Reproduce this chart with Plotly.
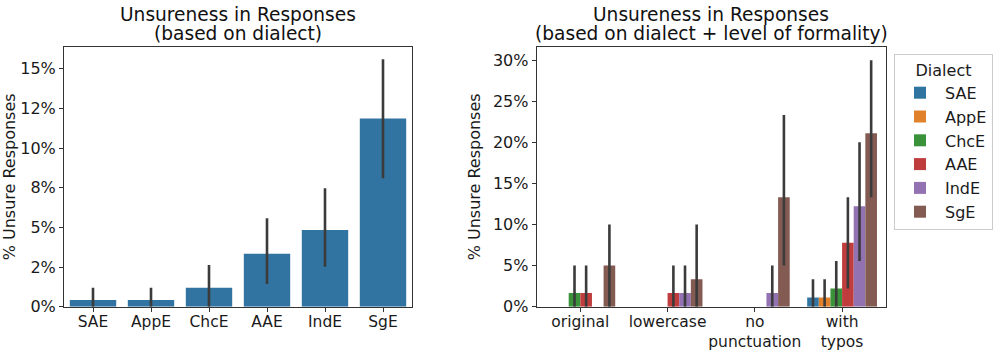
import plotly.graph_objects as go

dialects = ["SAE", "AppE", "ChcE", "AAE", "IndE", "SgE"]
colors = ["#3274A1", "#E1812C", "#3A923A", "#C03D3E", "#9372B2", "#845B53"]

# Left chart: unsure % by dialect, with CI bounds
left_vals = [0.42, 0.42, 1.2, 3.33, 4.83, 11.87]
left_lo = [0.0, 0.0, 0.0, 1.43, 2.52, 8.09]
left_hi = [1.2, 1.2, 2.63, 5.57, 7.46, 15.59]
left_tickvals = [0, 2.5, 5, 7.5, 10, 12.5, 15]
left_ticktext = ["0%", "2%", "5%", "8%", "10%", "12%", "15%"]

# Right chart: by formality level x dialect
formality = ["original", "lowercase", "no<br>punctuation", "with<br>typos"]
right_vals = {
    "SAE":  [0, 0, 0, 1.11],
    "AppE": [0, 0, 0, 1.11],
    "ChcE": [1.67, 0, 0, 2.22],
    "AAE":  [1.67, 1.67, 0, 7.78],
    "IndE": [0, 1.67, 1.67, 12.22],
    "SgE":  [5.0, 3.33, 13.33, 21.11],
}
right_lo = {
    "SAE":  [0, 0, 0, 0],
    "AppE": [0, 0, 0, 0],
    "ChcE": [0, 0, 0, 0],
    "AAE":  [0, 0, 0, 2.22],
    "IndE": [0, 0, 0, 5.56],
    "SgE":  [0, 0, 5.0, 13.33],
}
right_hi = {
    "SAE":  [0, 0, 0, 3.33],
    "AppE": [0, 0, 0, 3.33],
    "ChcE": [5.0, 0, 0, 5.56],
    "AAE":  [5.0, 5.0, 0, 13.33],
    "IndE": [0, 5.0, 5.0, 20.0],
    "SgE":  [10.0, 10.0, 23.33, 30.0],
}
right_tickvals = [0, 5, 10, 15, 20, 25, 30]
right_ticktext = ["0%", "5%", "10%", "15%", "20%", "25%", "30%"]

title_main = "Unsureness in Responses"
left_subtitle = "(based on dialect)"
right_subtitle = "(based on dialect + level of formality)"

ERR_COLOR = "#3b3b3b"
FONT = "DejaVu Sans"

fig = go.Figure()

fig.add_trace(go.Bar(
    x=dialects, y=left_vals, marker_color=colors[0], marker_line_width=0,
    error_y=dict(type="data", symmetric=False,
                 array=[h - v for h, v in zip(left_hi, left_vals)],
                 arrayminus=[v - l for v, l in zip(left_vals, left_lo)],
                 color=ERR_COLOR, thickness=2.6, width=0),
    xaxis="x", yaxis="y", showlegend=False,
))

for d, c in zip(dialects, colors):
    vals = right_vals[d]
    fig.add_trace(go.Bar(
        x=formality, y=vals, name=d, marker_color=c, marker_line_width=0,
        error_y=dict(type="data", symmetric=False,
                     array=[h - v if h > 0 else 0 for h, v in zip(right_hi[d], vals)],
                     arrayminus=[v - l for v, l in zip(vals, right_lo[d])],
                     color=ERR_COLOR, thickness=2.6, width=0),
        xaxis="x2", yaxis="y2",
    ))

H = 352
W = 993
y0 = 1 - 306.7 / H
y1 = 1 - 47 / H

axis_common = dict(showline=True, linecolor="#333333", linewidth=1, mirror=True,
                   ticks="outside", ticklen=4, tickcolor="#333333",
                   tickfont=dict(size=16, color="#1a1a1a", family=FONT),
                   showgrid=False, zeroline=False, automargin=False, tickangle=0)
xaxis_common = dict(axis_common)
xaxis_common["tickfont"] = dict(size=15.5, color="#1a1a1a", family=FONT)
xaxis_common["ticklabelstandoff"] = -3

fig.update_layout(
    width=W, height=H,
    margin=dict(l=0, r=0, t=0, b=0, autoexpand=False),
    paper_bgcolor="white", plot_bgcolor="white",
    font=dict(family=FONT, color="#1a1a1a"),
    barmode="group", bargap=0.2, bargroupgap=0,
    xaxis=dict(domain=[64 / W, 412 / W], anchor="y", **xaxis_common),
    yaxis=dict(domain=[y0, y1], anchor="x", range=[0, 16.37],
               tickvals=left_tickvals, ticktext=left_ticktext,
               title=dict(text="% Unsure Responses", font=dict(size=16, family=FONT), standoff=8),
               **axis_common),
    xaxis2=dict(domain=[536.7 / W, 885.7 / W], anchor="y2", **xaxis_common),
    yaxis2=dict(domain=[y0, y1], anchor="x2", range=[0, 31.6],
                tickvals=right_tickvals, ticktext=right_ticktext,
                title=dict(text="% Unsure Responses", font=dict(size=16, family=FONT), standoff=8),
                **axis_common),
    legend=dict(title=dict(text="Dialect", font=dict(size=16, family=FONT), side="top center"),
                font=dict(size=16, family=FONT),
                x=894 / W, xanchor="left", y=1 - 54 / H, yanchor="top",
                bordercolor="#cccccc", borderwidth=1, bgcolor="white",
                tracegroupgap=0, itemwidth=40),
)

for cx, sub in [(238, left_subtitle), (711, right_subtitle)]:
    for cy, txt in [(15, title_main), (33, sub)]:
        fig.add_annotation(text=txt, x=cx / W, y=1 - cy / H, xref="paper", yref="paper",
                           xanchor="center", yanchor="middle", showarrow=False,
                           font=dict(size=18.6, family=FONT, color="#111111"))

fig.write_html("out.html")
